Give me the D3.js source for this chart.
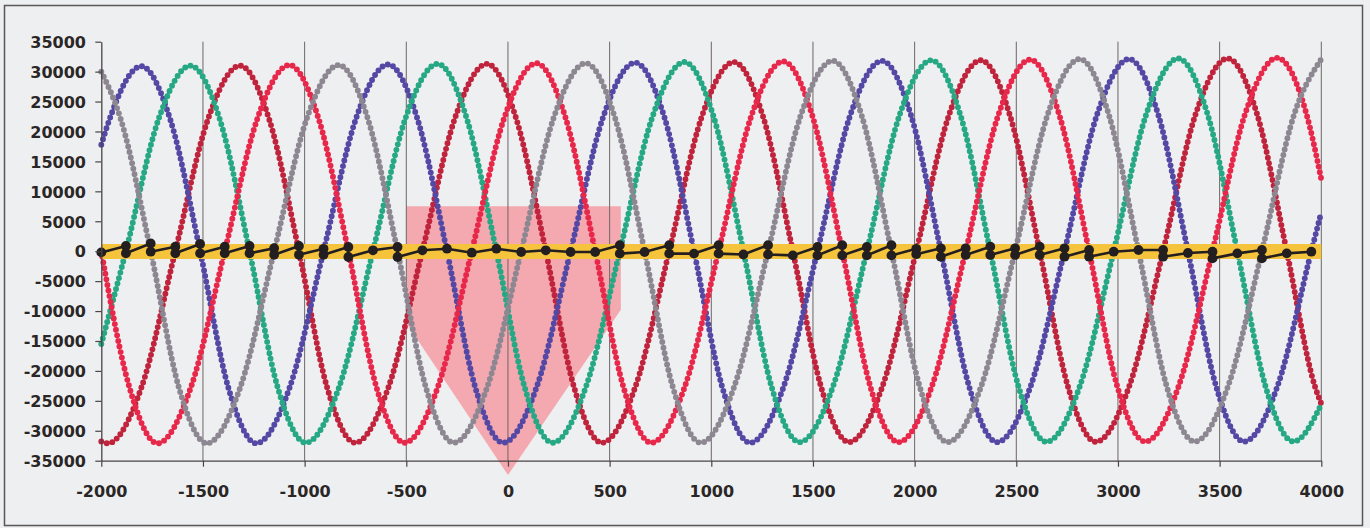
<!DOCTYPE html>
<html>
<head>
<meta charset="utf-8">
<script src="https://cdn.jsdelivr.net/npm/d3@7"></script>
<style>
  html, body { margin: 0; padding: 0; background: #eeeff1; }
  svg { display: block; }
</style>
</head>
<body>
<script>
// ---------- data ----------
const xTicks = [-2000, -1500, -1000, -500, 0, 500, 1000, 1500, 2000, 2500, 3000, 3500, 4000];
const yTicks = [-35000, -30000, -25000, -20000, -15000, -10000, -5000, 0, 5000, 10000, 15000, 20000, 25000, 30000, 35000];

const redSeries = [
  [-2000,0],[-1862,-22700],[-1724,-32100],[-1559,-22700],[-1393,0],[-1234,22000],[-1075,31100],[-930,22000],
  [-785,0],[-647,-22700],[-509,-32000],[-344,-22600],[-178,0],[-19,22200],[140,31400],[284,22200],
  [429,0],[567,-22600],[705,-32000],[870,-22600],[1036,0],[1195,22400],[1354,31700],[1499,22400],
  [1644,0],[1782,-22600],[1920,-31900],[2085,-22550],[2251,0],[2410,22600],[2569,32000],[2713,22600],
  [2858,0],[2996,-22500],[3134,-31800],[3299,-22500],[3465,0],[3624,22800],[3783,32300],[3928,22800],
  [4000,12000]
];
const greySeries = [
  [-2000,30000],[-1902,21800],[-1757,0],[-1619,-22700],[-1481,-32100],[-1316,-22700],[-1150,0],[-991,22000],
  [-832,31100],[-688,22000],[-543,0],[-405,-22600],[-267,-32000],[-101,-22600],[65,0],[224,22200],
  [383,31400],[527,22200],[672,0],[810,-22600],[948,-32000],[1113,-22600],[1279,0],[1438,22500],
  [1597,31800],[1741,22500],[1886,0],[2024,-22500],[2162,-31900],[2328,-22500],[2494,0],[2653,22700],
  [2812,32100],[2956,22700],[3101,0],[3239,-22500],[3377,-31800],[3542,-22500],[3708,0],[3867,22900],
  [4000,32100]
];
const blueSeries = [
  [-2000,17800],[-1962,21800],[-1803,30900],[-1659,21800],[-1514,0],[-1376,-22700],[-1238,-32100],[-1073,-22700],
  [-907,0],[-748,22100],[-589,31200],[-445,22100],[-300,0],[-162,-22600],[-24,-32000],[142,-22600],
  [308,0],[467,22300],[626,31500],[770,22300],[915,0],[1053,-22600],[1191,-32000],[1356,-22600],
  [1522,0],[1681,22500],[1840,31800],[1984,22500],[2129,0],[2267,-22500],[2405,-31900],[2571,-22500],
  [2737,0],[2896,22700],[3055,32100],[3199,22700],[3344,0],[3482,-22500],[3620,-31800],[3785,-22500],
  [3951,0],[4000,6500]
];
const greenSeries = [
  [-2000,-15500],[-1879,0],[-1720,21900],[-1561,31000],[-1416,21900],[-1271,0],[-1133,-22700],[-995,-32000],
  [-830,-22650],[-664,0],[-505,22100],[-346,31300],[-202,22100],[-57,0],[81,-22600],[219,-32000],
  [384,-22600],[550,0],[709,22300],[868,31600],[1013,22300],[1158,0],[1296,-22600],[1434,-31900],
  [1599,-22550],[1765,0],[1924,22550],[2083,31900],[2227,22550],[2372,0],[2510,-22500],[2648,-31850],
  [2813,-22500],[2979,0],[3138,22750],[3297,32200],[3442,22750],[3587,0],[3725,-22500],[3863,-31800],
  [4000,-25600]
];
const darkRedSeries = [
  [-2000,-31800],[-1968,-32100],[-1802,-22700],[-1636,0],[-1477,21900],[-1318,31000],[-1173,21900],[-1028,0],
  [-890,-22700],[-752,-32000],[-587,-22650],[-421,0],[-262,22100],[-103,31300],[41,22100],[186,0],
  [324,-22600],[462,-32000],[627,-22600],[793,0],[952,22350],[1111,31600],[1256,22350],[1401,0],
  [1539,-22550],[1677,-31900],[1842,-22550],[2008,0],[2167,22550],[2326,31900],[2470,22550],[2615,0],
  [2753,-22500],[2891,-31850],[3056,-22500],[3222,0],[3381,22800],[3540,32200],[3685,22800],[3830,0],
  [3968,-22500],[4000,-25500]
];
const sumSeries = [
  [-2000,-200],[-1879,870],[-1879,-350],[-1757,1300],[-1757,-80],[-1636,750],[-1636,-350],[-1514,1200],[-1514,-350],
  [-1393,750],[-1393,-350],[-1271,870],[-1271,-350],[-1150,500],[-1150,-600],[-1028,870],[-1028,-600],
  [-907,400],[-907,-600],[-785,700],[-785,-970],[-664,150],[-543,700],[-543,-970],[-421,150],[-300,420],
  [-178,-250],[-57,420],[65,-130],[186,150],[308,-130],[429,-130],[550,1000],[550,-400],[672,-130],
  [793,1000],[793,-400],[915,-400],[1036,1000],[1036,-400],[1158,-550],[1279,1000],[1279,-550],[1401,-700],
  [1522,700],[1522,-700],[1644,1000],[1644,-700],[1765,700],[1765,-700],[1886,1000],[1886,-700],
  [2008,400],[2008,-500],[2129,480],[2129,-920],[2251,480],[2251,-630],[2372,760],[2372,-630],
  [2494,480],[2494,-630],[2615,760],[2615,-630],[2737,480],[2737,-920],[2858,200],[2858,-920],
  [2979,-80],[3101,200],[3222,200],[3222,-920],[3344,-300],[3465,-80],[3465,-1200],[3587,-360],
  [3708,200],[3708,-1200],[3830,-360],[3951,-80]
];
const bandRange = [-1300, 1200];
const arrowShape = [[-500,7500],[555,7500],[555,-9800],[0,-37400],[-500,-12000]];

// ---------- drawing ----------
const W = 1370, H = 528;
const svg = d3.select("body").append("svg").attr("width", W).attr("height", H);
svg.append("rect").attr("width", W).attr("height", H).attr("fill", "#eeeff1");
svg.append("rect").attr("x", 4.5).attr("y", 5.5).attr("width", 1358).attr("height", 520)
  .attr("fill", "none").attr("stroke", "#5b5656").attr("stroke-width", 1.5);

const x = d3.scaleLinear().domain([-2000, 4000]).range([101.3, 1321.3]);
const y = d3.scaleLinear().domain([-35000, 35000]).range([460.7, 41.7]);

// pink arrow
svg.append("polygon")
  .attr("points", arrowShape.map(p => [x(p[0]), y(p[1])].join(",")).join(" "))
  .attr("fill", "#f4a8af");

// vertical gridlines
svg.append("g").selectAll("line").data(xTicks.filter(v => v > -2000)).join("line")
  .attr("x1", d => x(d)).attr("x2", d => x(d))
  .attr("y1", y(35000)).attr("y2", y(-35000))
  .attr("stroke", "#6e6666").attr("stroke-width", 1);

// dotted series
const curve = d3.line().x(d => x(d[0])).y(d => y(d[1])).curve(d3.curveMonotoneX);
const series = [
  { data: darkRedSeries, color: "#c0233c" },
  { data: blueSeries, color: "#5448a5" },
  { data: greenSeries, color: "#26a884" },
  { data: redSeries, color: "#e8284b" },
  { data: greySeries, color: "#8d8792" }
];
svg.append("g").selectAll("path").data(series).join("path")
  .attr("d", d => curve(d.data))
  .attr("fill", "none")
  .attr("stroke", d => d.color)
  .attr("stroke-width", 5.9)
  .attr("stroke-linecap", "round")
  .attr("stroke-dasharray", "0 5.7");

// yellow band
svg.append("rect")
  .attr("x", x(-2000)).attr("width", x(4000) - x(-2000))
  .attr("y", y(bandRange[1])).attr("height", y(bandRange[0]) - y(bandRange[1]))
  .attr("fill", "#f5c43c");

// black line with dots
const lin = d3.line().x(d => x(d[0])).y(d => y(d[1]));
svg.append("path").attr("d", lin(sumSeries)).attr("fill", "none")
  .attr("stroke", "#231f20").attr("stroke-width", 2.6).attr("stroke-linejoin", "round");
svg.append("g").selectAll("circle").data(sumSeries).join("circle")
  .attr("cx", d => x(d[0])).attr("cy", d => y(d[1])).attr("r", 4.9)
  .attr("fill", "#231f20");

// axes
const fmt = d => String(d);
const yAxis = svg.append("g").attr("transform", "translate(101.3,0)")
  .call(d3.axisLeft(y).tickValues(yTicks).tickSize(6).tickSizeOuter(0).tickPadding(9.3).tickFormat(fmt));
const xAxis = svg.append("g").attr("transform", "translate(0,460.7)")
  .call(d3.axisBottom(x).tickValues(xTicks).tickSize(6).tickSizeOuter(0).tickFormat(fmt));

[yAxis, xAxis].forEach(g => {
  g.select(".domain").attr("stroke", "#4a4444").attr("stroke-width", 1.3);
  g.selectAll(".tick line").attr("stroke", "#4a4444").attr("stroke-width", 1.2);
  g.selectAll("text")
    .attr("fill", "#2a2626")
    .style("font-family", "'DejaVu Sans', sans-serif")
    .style("font-weight", "bold")
    .style("font-size", "16px");
});
yAxis.selectAll("text").attr("dy", "0.36em");
xAxis.selectAll("text").attr("y", 36.3).attr("dy", 0);
</script>
</body>
</html>
